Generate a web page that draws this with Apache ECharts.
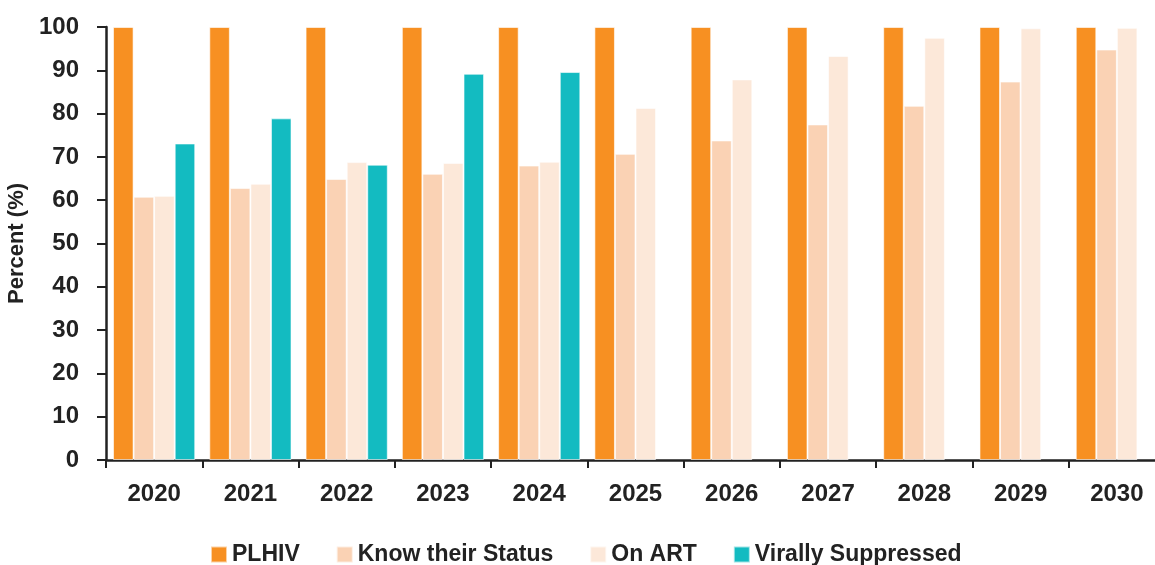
<!DOCTYPE html>
<html><head><meta charset="utf-8">
<script src="https://cdn.jsdelivr.net/npm/echarts@6/dist/echarts.min.js"></script>
<style>html,body{margin:0;padding:0;background:#fff}#c{width:1155px;height:565px}</style>
</head><body><div id="c"></div>
<script>
const years = ['2020','2021','2022','2023','2024','2025','2026','2027','2028','2029','2030'];
const plhiv = [100,100,100,100,100,100,100,100,100,100,100];
const knowStatus = [60.8,62.8,64.9,66.1,68.0,70.7,73.8,77.5,81.8,87.4,94.8];
const onArt = [61.0,63.8,68.8,68.6,68.9,81.3,87.9,93.3,97.5,99.7,99.8];
const viral = [73.1,78.9,68.2,89.2,89.6,null,null,null,null,null,null];
const yTicks = [0,10,20,30,40,50,60,70,80,90,100];

const FONT = 'Liberation Sans';
const chart = echarts.init(document.getElementById('c'), null, {renderer:'canvas'});
const mk = (name, data, color) => ({
  name, type:'bar', data, barGap:'0%', barCategoryGap:'14.6%',
  itemStyle:{color, borderColor:'rgba(255,255,255,0.6)', borderWidth:1}
});
chart.setOption({
  animation:false,
  grid:{left:106, right:-10, top:27, bottom:105, containLabel:false, outerBoundsMode:'none'},
  legend:{
    top:538, left:205, itemWidth:16, itemHeight:16, itemGap:36, icon:'rect',
    textStyle:{fontFamily:FONT, fontWeight:'bold', fontSize:23, color:'#222'},
    data:['PLHIV','Know their Status','On ART','Virally Suppressed']
  },
  xAxis:{
    type:'category', data:years,
    axisLine:{lineStyle:{color:'#222', width:2.5}},
    axisTick:{show:true, length:8, lineStyle:{color:'#222', width:2}},
    axisLabel:{fontFamily:FONT, fontWeight:'bold', fontSize:24, color:'#222', margin:22}
  },
  yAxis:{
    type:'value', min:0, max:100, interval:10,
    name:'Percent (%)', nameLocation:'middle', nameGap:63,
    nameTextStyle:{fontFamily:FONT, fontWeight:'bold', fontSize:22, color:'#222'},
    splitLine:{show:false},
    axisLine:{show:true, lineStyle:{color:'#222', width:2.5}},
    axisTick:{show:true, length:9, lineStyle:{color:'#222', width:2}},
    axisLabel:{fontFamily:FONT, fontWeight:'bold', fontSize:24, color:'#222', margin:27,
      formatter:v => yTicks.includes(v) ? String(v) : ''}
  },
  series:[
    mk('PLHIV', plhiv, '#F79022'),
    mk('Know their Status', knowStatus, '#FAD2B4'),
    mk('On ART', onArt, '#FCE8D9'),
    mk('Virally Suppressed', viral, '#13BBC1')
  ]
});
</script></body></html>
